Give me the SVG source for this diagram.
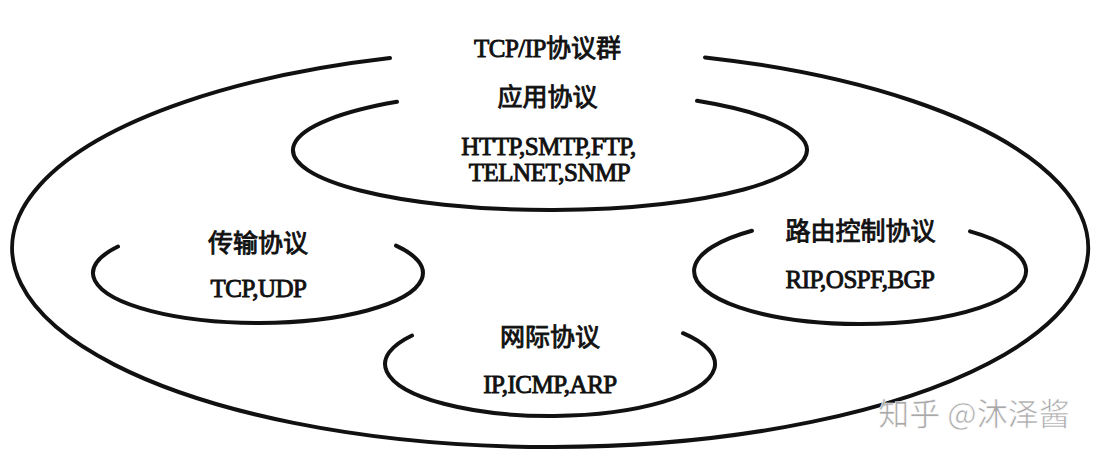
<svg xmlns="http://www.w3.org/2000/svg" width="1105" height="461" viewBox="0 0 1105 461">
  <style>
    .ring { fill: none; stroke: #111; stroke-width: 4; stroke-linecap: round; }
    .lab { font-family: "Liberation Serif", "Noto Sans CJK SC", serif; font-size: 25px; fill: #111; stroke: #111; stroke-width: 0.9; text-anchor: middle; }
    .cn { font-family: "Noto Sans CJK SC", "Liberation Sans", sans-serif; font-size: 25px; fill: #111; stroke: #111; stroke-width: 0.9; text-anchor: middle; }
    .lat { font-family: "Liberation Serif", serif; font-size: 25px; letter-spacing: -0.5px; fill: #111; stroke: #111; stroke-width: 0.9; text-anchor: middle; }
    .wm { font-family: "Noto Sans CJK SC", sans-serif; font-size: 31px; fill: #a8a8a8; text-anchor: middle; }
  </style>
  <rect width="1105" height="461" fill="#ffffff"/>

  <g id="tcpip-suite">
    <path class="ring" d="M 390 58 A 538 199 0 1 0 705 57.4"/>
    <text class="lab" x="547.5" y="57"><tspan letter-spacing="-0.5">TCP/IP</tspan>协议群</text>
  </g>

  <g id="application">
    <path class="ring" d="M 397 101.8 A 257 60 0 1 0 697 100.8"/>
    <text class="cn" x="547.5" y="106">应用协议</text>
    <text class="lat" x="548.5" y="155">HTTP,SMTP,FTP,</text>
    <text class="lat" x="549.5" y="181">TELNET,SNMP</text>
  </g>

  <g id="transport">
    <path class="ring" d="M 118 246.5 A 165 50 0 1 0 396 245.6"/>
    <text class="cn" x="258" y="252">传输协议</text>
    <text class="lat" x="258.5" y="297">TCP,UDP</text>
  </g>

  <g id="routing">
    <path class="ring" d="M 752 230.8 A 166 53 0 1 0 970 231.3"/>
    <text class="cn" x="860.5" y="240">路由控制协议</text>
    <text class="lat" x="860" y="288">RIP,OSPF,BGP</text>
  </g>

  <g id="internet">
    <path class="ring" d="M 412 335.5 A 165 52 0 1 0 683 333.2"/>
    <text class="cn" x="550" y="346">网际协议</text>
    <text class="lat" x="550" y="393">IP,ICMP,ARP</text>
  </g>

  <g id="watermark">
    <text class="wm" x="974" y="425" stroke="#ffffff" stroke-width="0.6">知乎 @沐泽酱</text>
  </g>
</svg>
